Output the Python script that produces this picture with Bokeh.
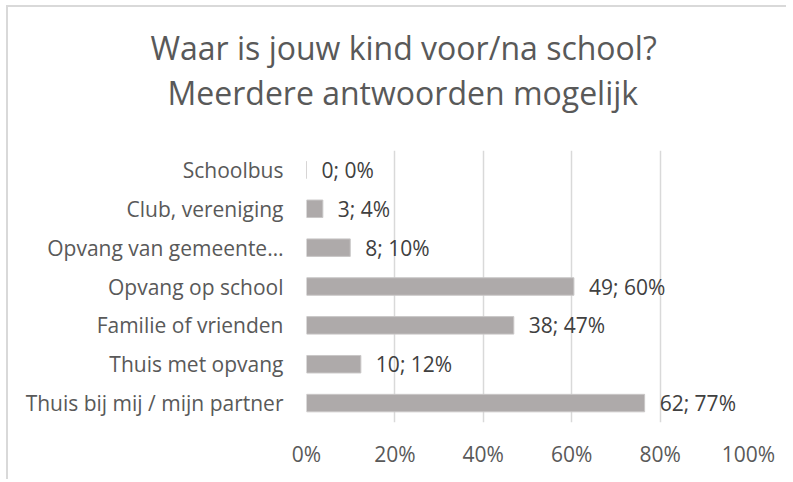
from bokeh.plotting import figure
from bokeh.models import FactorRange, Range1d, Title, NumeralTickFormatter, ColumnDataSource, FixedTicker
from bokeh.core.properties import value
from bokeh.embed import file_html
from bokeh.resources import INLINE

# ---- data ----
categories = ["Schoolbus", "Club, vereniging", "Opvang van gemeente\u2026", "Opvang op school",
              "Familie of vrienden", "Thuis met opvang", "Thuis bij mij / mijn partner"]
counts = [0, 3, 8, 49, 38, 10, 62]
shares = [0.0, 0.037, 0.099, 0.605, 0.469, 0.123, 0.765]
pct_labels = ["0%", "4%", "10%", "60%", "47%", "12%", "77%"]
x_ticks = [0, 0.2, 0.4, 0.6, 0.8, 1.0]
title_lines = ["Waar is jouw kind voor/na school?", "Meerdere antwoorden mogelijk"]

labels = [f"{c}; {p}" for c, p in zip(counts, pct_labels)]
src = ColumnDataSource(dict(cat=categories, share=shares, label=labels))

FONT = "Open Sans"
GREY_TXT = "#595959"

p = figure(width=780, height=474, title=None,
           y_range=FactorRange(factors=categories[::-1]), x_range=Range1d(0, 1),
           output_backend="svg", toolbar_location=None,
           min_border_left=298, min_border_right=40, min_border_top=143, min_border_bottom=59)
p.styles = {"margin-left": "6px", "margin-top": "5px",
            "border-left": "2px solid #D9D9D9", "border-top": "2px solid #D9D9D9"}

p.hbar(y="cat", right="share", left=0, height=0.45, source=src,
       fill_color="#AEAAAA", line_color="#C9C7C7", line_width=1)
p.text(x="share", y="cat", text="label", source=src, x_offset=15,
       text_baseline="middle", text_align="left", text_font=value(FONT),
       text_font_size="21px", text_color="#404040")

p.xaxis.ticker = FixedTicker(ticks=x_ticks)
p.xaxis.formatter = NumeralTickFormatter(format="0%")
for ax in (p.xaxis[0], p.yaxis[0]):
    ax.axis_line_color = None
    ax.major_tick_line_color = None
    ax.minor_tick_line_color = None
    ax.major_label_text_font = FONT
    ax.major_label_text_font_size = "21px"
    ax.major_label_text_color = GREY_TXT
p.xaxis.major_label_standoff = 11
p.yaxis.major_label_standoff = 17

p.ygrid.grid_line_color = None
p.xgrid.grid_line_color = "#D9D9D9"
p.xgrid.grid_line_width = 1.5
p.outline_line_color = None

# spacer between subtitle and plot area (nearest the frame)
p.add_layout(Title(text=" ", standoff=20, text_font=FONT, text_font_size="10px",
                   text_color=GREY_TXT), "above")
p.add_layout(Title(text=title_lines[1], align="left", offset=-139, standoff=1,
                   text_font=FONT, text_font_size="32px", text_font_style="normal",
                   text_color=GREY_TXT), "above")
p.add_layout(Title(text=title_lines[0], align="left", offset=-156, standoff=0,
                   text_font=FONT, text_font_size="32px", text_font_style="normal",
                   text_color=GREY_TXT), "above")

open("out.html", "w").write(file_html(p, INLINE))
